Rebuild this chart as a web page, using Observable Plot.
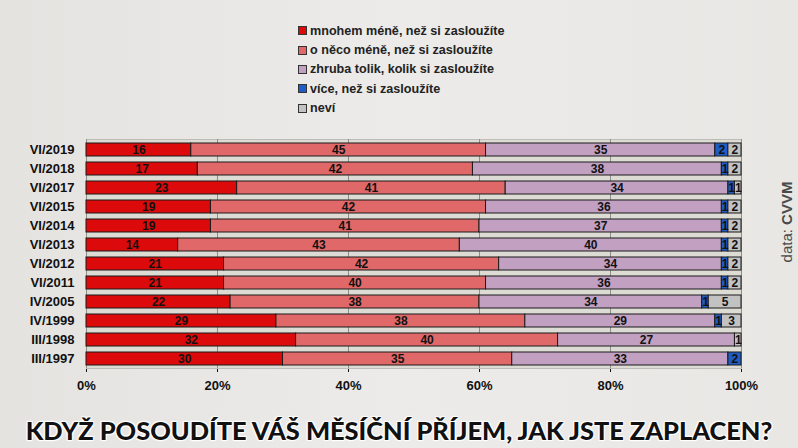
<!DOCTYPE html>
<html>
<head>
<meta charset="utf-8">
<script src="https://cdn.jsdelivr.net/npm/d3@7"></script>
<script src="https://cdn.jsdelivr.net/npm/@observablehq/plot@0.6"></script>
<style>
  html, body { margin: 0; padding: 0; }
  body { width: 798px; height: 448px; overflow: hidden;
    background: linear-gradient(90deg, #e4e3e0 0%, #ecebe9 50%, #e8e7e4 100%);
    font-family: "Liberation Sans", Arial, sans-serif; }
  #wrap { position: relative; width: 798px; height: 448px; }
  #chart { position: absolute; left: 0; top: 0; }
  #legend { position: absolute; left: 298px; top: 21px; }
  .li { display: flex; align-items: center; height: 19.4px; font-weight: bold; font-size: 12.6px; color: #222; }
  .sw { width: 7px; height: 7px; border: 1px solid #333; margin-right: 3px; }
  #src { position: absolute; left: 786px; top: 222px; transform: translate(-50%, -50%) rotate(-90deg);
    font-size: 15px; color: #4a4a4a; white-space: nowrap; }
  #title { position: absolute; left: 0; width: 798px; top: 415px; text-align: center;
    font-family: "Lato", sans-serif; font-weight: 900; font-size: 25.4px; color: #111; white-space: nowrap;
    text-shadow: 0 0 2px #fff, 0 0 2px #fff, 1px 1px 1px #fff, -1px -1px 1px #fff, 1px -1px 1px #fff, -1px 1px 1px #fff; }
</style>
</head>
<body>
<div id="wrap">
  <div id="chart"></div>
  <div id="legend"></div>
  <div id="src">data: <b>CVVM</b></div>
  <div id="title">KDYŽ POSOUDÍTE VÁŠ MĚSÍČNÍ PŘÍJEM, JAK JSTE ZAPLACEN?</div>
</div>
<script>
const years = ["VI/2019","VI/2018","VI/2017","VI/2015","VI/2014","VI/2013","VI/2012","VI/2011","IV/2005","IV/1999","III/1998","III/1997"];
const categories = ["mnohem méně, než si zasloužíte","o něco méně, než si zasloužíte","zhruba tolik, kolik si zasloužíte","více, než si zasloužíte","neví"];
const colors = ["#dc0a0a","#e06868","#c1a0c2","#1f5cc4","#c2c2c2"];
const mnohemMene = [16,17,23,19,19,14,21,21,22,29,32,30];
const oNecoMene  = [45,42,41,42,41,43,42,40,38,38,40,35];
const zhrubaTolik= [35,38,34,36,37,40,34,36,34,29,27,33];
const vice       = [2,1,1,1,1,1,1,1,1,1,0,2];
const nevi       = [2,2,1,2,2,2,2,2,5,3,1,0];
const xTicks = [0,20,40,60,80,100];

const series = [mnohemMene, oNecoMene, zhrubaTolik, vice, nevi];
const data = [];
years.forEach((y, i) => {
  series.forEach((s, k) => data.push({year: y, cat: categories[k], value: s[i]}));
});

const chart = Plot.plot({
  width: 798,
  height: 400,
  marginLeft: 86,
  marginRight: 57,
  marginTop: 139,
  marginBottom: 32,
  style: {background: "transparent", fontFamily: "Liberation Sans, Arial, sans-serif", fontSize: "13px", fontWeight: "bold", color: "#111"},
  x: {domain: [0, 100], ticks: xTicks, tickFormat: d => d + "%", label: null, tickSize: 4, tickPadding: 8, line: true},
  y: {domain: years, label: null, paddingInner: 0.32, paddingOuter: 0.03, tickSize: 0, tickPadding: 12, line: true},
  color: {domain: categories, range: colors},
  marks: [
    Plot.frame({fill: "#dcdbd4", stroke: "#bdbcb6"}),
    Plot.gridX(xTicks, {stroke: "#8f8f8a", strokeOpacity: 1}),
    Plot.barX(data, Plot.stackX({x: "value", y: "year", fill: "cat", stroke: "#1a1a1a", strokeWidth: 1, order: null})),
    Plot.text(data, Plot.stackX({x: "value", y: "year", z: "cat", order: null,
      text: d => d.value > 0 ? String(d.value) : "", fill: "#111", fontSize: 12, fontWeight: "bold"}))
  ]
});
document.getElementById("chart").appendChild(chart);

const leg = document.getElementById("legend");
categories.forEach((c, k) => {
  const row = document.createElement("div");
  row.className = "li";
  const sw = document.createElement("span");
  sw.className = "sw";
  sw.style.background = colors[k];
  row.appendChild(sw);
  row.appendChild(document.createTextNode(c));
  leg.appendChild(row);
});
</script>
</body>
</html>
